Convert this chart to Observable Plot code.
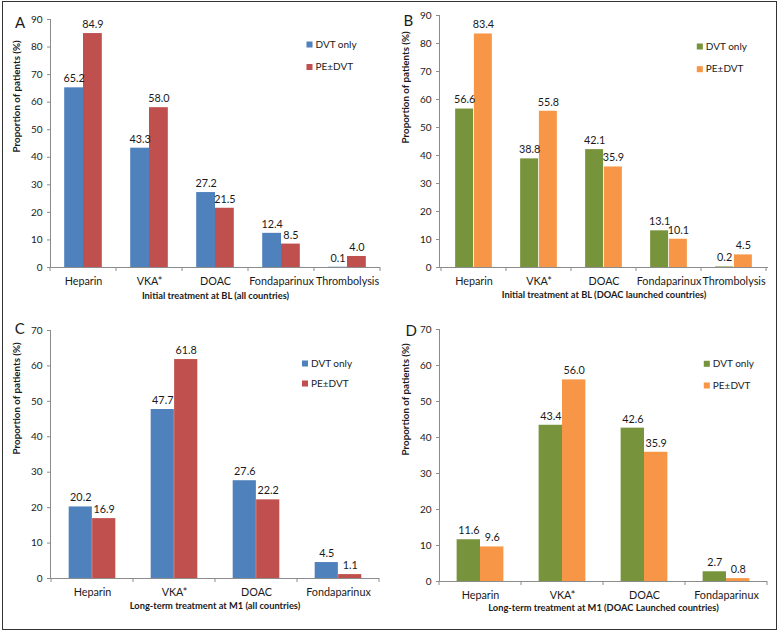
<!DOCTYPE html>
<html><head><meta charset="utf-8">
<script src="https://cdn.jsdelivr.net/npm/d3@7"></script>
<script src="https://cdn.jsdelivr.net/npm/@observablehq/plot@0.6"></script>
<style>
body{margin:0;background:#fff;}
#wrap{position:relative;width:780px;height:633px;font-family:Lato,"Open Sans",sans-serif;overflow:hidden;}
#frame{position:absolute;left:2px;top:1px;width:775px;height:629px;border:1.5px solid #333;box-sizing:border-box;pointer-events:none;}
.panel{position:absolute;}
</style></head><body>
<div id="wrap"><div id="frame"></div></div>
<script>
// ---- data ----
const seriesNames = ["DVT only", "PE±DVT"];
const catsInitial = ["Heparin", "VKA*", "DOAC", "Fondaparinux", "Thrombolysis"];
const catsLong = ["Heparin", "VKA*", "DOAC", "Fondaparinux"];
const aDVT = [65.2, 43.3, 27.2, 12.4, 0.1];
const aPE  = [84.9, 58.0, 21.5, 8.5, 4.0];
const bDVT = [56.6, 38.8, 42.1, 13.1, 0.2];
const bPE  = [83.4, 55.8, 35.9, 10.1, 4.5];
const cDVT = [20.2, 47.7, 27.6, 4.5];
const cPE  = [16.9, 61.8, 22.2, 1.1];
const dDVT = [11.6, 43.4, 42.6, 2.7];
const dPE  = [9.6, 56.0, 35.9, 0.8];
const yTicksInitial = [0, 10, 20, 30, 40, 50, 60, 70, 80, 90];
const yTicksLong = [0, 10, 20, 30, 40, 50, 60, 70];
const yTitle = "Proportion of patients (%)";
const xTitles = [
  "Initial treatment at BL (all countries)",
  "Initial treatment at BL (DOAC launched countries)",
  "Long-term treatment at M1 (all countries)",
  "Long-term treatment at M1 (DOAC Launched countries)"
];
const panelLetters = ["A", "B", "C", "D"];
const colorsAll = ["#4F81BD", "#C0504D"];
const colorsDoac = ["#77933C", "#F79646"];

const axisColor = "#8c8c8c";
const textColor = "#1a1a1a";

function boundaryTicks(cats) {
  return (index, scales) => {
    const x = scales.x, y = scales.y;
    const bw = typeof x.bandwidth === "function" ? x.bandwidth() : x.bandwidth;
    const xs = cats.map(c => x(c));
    xs.push(x(cats[cats.length - 1]) + bw);
    const g = d3.create("svg:g").attr("stroke", axisColor).attr("stroke-width", 1);
    const y0 = y(0);
    for (const xv of xs) g.append("line").attr("x1", xv).attr("x2", xv).attr("y1", y0).attr("y2", y0 + 4);
    return g.node();
  };
}

function panel(cfg) {
  const {cats, dvt, pe, colors, yTicks, xTitle, letter, width, height, ml, mr, mt, mb} = cfg;
  const rowsD = cats.map((c, i) => ({cat: c, v: dvt[i]}));
  const rowsP = cats.map((c, i) => ({cat: c, v: pe[i]}));
  const bw = (width - ml - mr) / cats.length;
  const barW = bw * 0.285;
  const inOuter = bw / 2 - barW;
  const inInner = bw / 2;
  return Plot.plot({
    width, height,
    marginLeft: ml, marginRight: mr, marginTop: mt, marginBottom: mb,
    style: {fontFamily: "Lato, 'Open Sans', sans-serif", fontSize: "10px", color: textColor, background: "transparent", overflow: "visible"},
    x: {type: "band", domain: cats, padding: 0, axis: null},
    y: {domain: [0, yTicks[yTicks.length - 1]], axis: null},
    marks: [
      Plot.barY(rowsD, {x: "cat", y: "v", fill: colors[0], insetLeft: inOuter, insetRight: inInner}),
      Plot.barY(rowsP, {x: "cat", y: "v", fill: colors[1], insetLeft: inInner, insetRight: inOuter}),
      Plot.frame({anchor: "left", stroke: axisColor}),
      Plot.ruleY([0], {stroke: axisColor}),
      boundaryTicks(cats),
      Plot.axisY({ticks: yTicks, tickSize: 3, tickPadding: 5, stroke: axisColor, fill: textColor, fontSize: 10, label: null, tickFormat: d => d}),
      Plot.axisX({tickSize: 0, tickPadding: 9.5, fill: textColor, fontSize: 10.8, label: null}),
      Plot.text(rowsD, {x: "cat", y: "v", text: d => d.v.toFixed(1), dx: -barW / 2, dy: -9, fill: textColor, fontSize: 10.8}),
      Plot.text(rowsP, {x: "cat", y: "v", text: d => d.v.toFixed(1), dx: barW / 2, dy: -9, fill: textColor, fontSize: 10.8}),
      Plot.text([yTitle], {text: d => d, frameAnchor: "left", lineAnchor: "middle", rotate: -90, dx: -34, dy: cfg.yTitleDy, fontWeight: "bold", fontSize: 9.8, fill: textColor}),
      Plot.text([xTitle], {text: d => d, frameAnchor: "bottom", lineAnchor: "middle", dy: cfg.xTitleDy, fontWeight: "bold", fontSize: 9.3, fill: textColor}),
      Plot.text([letter], {text: d => d, frameAnchor: "top-left", lineAnchor: "middle", dx: cfg.letterDx, dy: cfg.letterDy, fontSize: 15, fill: textColor}),
      Plot.dot([seriesNames[0]], {frameAnchor: "top-right", dx: cfg.legDx, dy: cfg.legDy1, symbol: "square", r: 3.4, fill: colors[0]}),
      Plot.dot([seriesNames[1]], {frameAnchor: "top-right", dx: cfg.legDx, dy: cfg.legDy2, symbol: "square", r: 3.4, fill: colors[1]}),
      Plot.text([seriesNames[0]], {text: d => d, frameAnchor: "top-right", lineAnchor: "middle", dx: cfg.legDx + 6, dy: cfg.legDy1, textAnchor: "start", fontSize: 10, fill: textColor}),
      Plot.text([seriesNames[1]], {text: d => d, frameAnchor: "top-right", lineAnchor: "middle", dx: cfg.legDx + 6, dy: cfg.legDy2, textAnchor: "start", fontSize: 10, fill: textColor})
    ]
  });
}

const panels = [
  {left: 0, top: 0, cats: catsInitial, dvt: aDVT, pe: aPE, colors: colorsAll, yTicks: yTicksInitial,
   width: 390, height: 310, ml: 50, mr: 10, mt: 19, mb: 43, yTitleDy: 9, xTitleDy: 28.5,
   letterDx: -35.5, letterDy: 4, legDx: -71, legDy1: 25, legDy2: 47.5},
  {left: 390, top: 0, cats: catsInitial, dvt: bDVT, pe: bPE, colors: colorsDoac, yTicks: yTicksInitial,
   width: 390, height: 310, ml: 49, mr: 12, mt: 15, mb: 43, yTitleDy: 2, xTitleDy: 27.5,
   letterDx: -36, letterDy: 6, legDx: -68.7, legDy1: 31, legDy2: 53.7},
  {left: 0, top: 310, cats: catsLong, dvt: cDVT, pe: cPE, colors: colorsAll, yTicks: yTicksLong,
   width: 390, height: 323, ml: 50, mr: 11, mt: 20, mb: 55, yTitleDy: 0, xTitleDy: 27.5,
   letterDx: -35.7, letterDy: -1, legDx: -74.5, legDy1: 33, legDy2: 53},
  {left: 390, top: 310, cats: catsLong, dvt: dDVT, pe: dPE, colors: colorsDoac, yTicks: yTicksLong,
   width: 390, height: 323, ml: 49, mr: 13, mt: 19, mb: 52, yTitleDy: 0, xTitleDy: 26.5,
   letterDx: -34, letterDy: 2, legDx: -60.7, legDy1: 34.3, legDy2: 56}
];

const wrap = document.getElementById("wrap");
panels.forEach((p, i) => {
  const svg = panel({...p, xTitle: xTitles[i], letter: panelLetters[i]});
  const div = document.createElement("div");
  div.className = "panel";
  div.style.left = p.left + "px";
  div.style.top = p.top + "px";
  div.appendChild(svg);
  wrap.insertBefore(div, document.getElementById("frame"));
});
</script>
</body></html>
